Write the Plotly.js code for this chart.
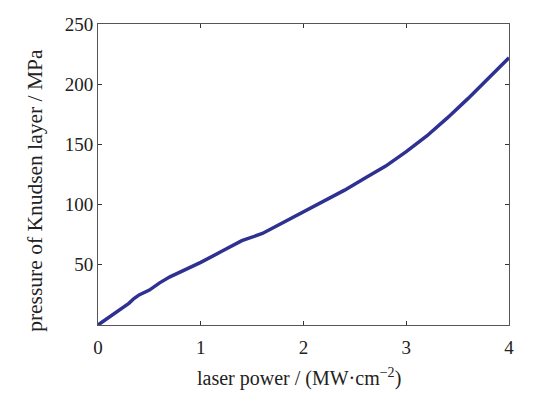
<!DOCTYPE html>
<html>
<head>
<meta charset="utf-8">
<script src="https://cdn.plot.ly/plotly-3.0.1.min.js"></script>
<style>html,body{margin:0;padding:0;background:#fff;}#chart{width:546px;height:395px;}</style>
</head>
<body>
<div id="chart"></div>
<script>
const laserPower = [0,0.1,0.2,0.3,0.35,0.4,0.5,0.6,0.7,0.8,0.9,1.0,1.2,1.4,1.6,1.8,2.0,2.2,2.4,2.6,2.8,3.0,3.2,3.4,3.6,3.8,4.0];
const pressure   = [0,6,12,18,22,25,29,35,40,44,48,52,61,70,76,85,94,103,112,122,132,144,157,172,188,205,222];
const xTicks = [0,1,2,3,4];
const yTicks = [50,100,150,200,250];
const xTitle = 'laser power / (MW·cm<sup>−2</sup>)';
const yTitle = 'pressure of Knudsen layer / MPa';

const fam = '"Liberation Serif", "Times New Roman", serif';
const tickFont = {family: fam, size: 19, color: '#222'};
const axisCommon = {
  showline: true, linecolor: '#555', linewidth: 1, mirror: 'ticks',
  ticks: 'inside', ticklen: 4, tickcolor: '#333', tickwidth: 1,
  showgrid: false, zeroline: false, tickfont: tickFont
};
Plotly.newPlot('chart', [{
  x: laserPower, y: pressure, type: 'scatter', mode: 'lines',
  line: {color: '#2e3192', width: 3.5}, hoverinfo: 'skip'
}], {
  width: 546, height: 395,
  margin: {l: 98, r: 37, t: 23.5, b: 70},
  paper_bgcolor: '#fff', plot_bgcolor: '#fff',
  showlegend: false, font: tickFont,
  xaxis: Object.assign({}, axisCommon, {
    range: [0, 4], tickvals: xTicks, ticktext: xTicks.map(String), ticklabelstandoff: 5
  }),
  yaxis: Object.assign({}, axisCommon, {
    range: [0, 250], tickvals: yTicks, ticktext: yTicks.map(String)
  }),
  annotations: [
    {text: xTitle, xref: 'paper', yref: 'paper', x: 0.488, y: -0.176,
     xanchor: 'center', yanchor: 'middle', showarrow: false,
     font: {family: fam, size: 20, color: '#222'}},
    {text: yTitle, xref: 'paper', yref: 'paper', x: -0.153, y: 0.446,
     xanchor: 'center', yanchor: 'middle', showarrow: false, textangle: -90,
     font: {family: fam, size: 21.5, color: '#222'}}
  ]
}, {staticPlot: true, displayModeBar: false});
</script>
</body>
</html>
